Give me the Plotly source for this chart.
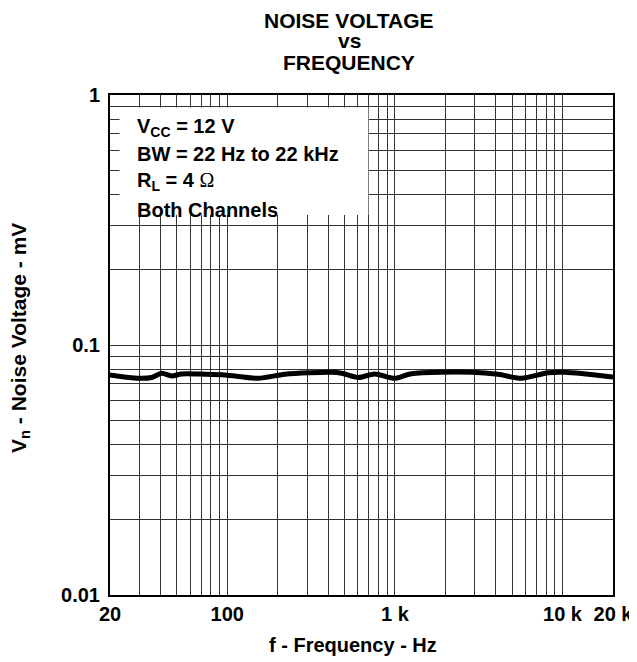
import plotly.graph_objects as go
import numpy as np

# Data
freq_hz = [20, 29.5, 35.4, 40.6, 46.6, 53.5, 73.7, 96.9, 153, 221, 419, 481, 604,
           759, 998, 1256, 2864, 4124, 5685, 8187, 10300, 20000]
noise_mv = [0.0759, 0.0736, 0.0741, 0.0771, 0.0752, 0.0766, 0.0764, 0.0759, 0.0736,
            0.0764, 0.0778, 0.0771, 0.0741, 0.0766, 0.0736, 0.0768, 0.0778, 0.0764,
            0.0736, 0.0774, 0.0778, 0.0745]

x_grid = [20, 30, 40, 50, 60, 70, 80, 90, 100, 200, 300, 400, 500, 600, 700, 800, 900,
          1000, 2000, 3000, 4000, 5000, 6000, 7000, 8000, 9000, 10000, 20000]
x_labels = {20: "20", 100: "100", 1000: "1 k", 10000: "10 k", 20000: "20 k"}

y_grid = [0.01, 0.02, 0.03, 0.04, 0.05, 0.06, 0.07, 0.08, 0.09,
          0.1, 0.2, 0.3, 0.4, 0.5, 0.6, 0.7, 0.8, 0.9, 1]
y_labels = {0.01: "0.01", 0.1: "0.1", 1: "1"}

title_lines = ["NOISE VOLTAGE", "vs", "FREQUENCY"]
info_lines = ["V<sub>CC</sub> = 12 V",
              "BW = 22 Hz to 22 kHz",
              "R<sub>L</sub> = 4 <span style=\"font-family:'Liberation Serif';font-weight:normal\">Ω</span>",
              "Both Channels"]
x_title = "f - Frequency - Hz"
y_title = "V<sub>n</sub> - Noise Voltage - mV"

FONT = "Liberation Sans, Arial, sans-serif"
FS = 20

fig = go.Figure()
fig.add_trace(go.Scatter(x=freq_hz, y=noise_mv, mode="lines",
                         line=dict(color="black", width=5, shape="spline", smoothing=0.8),
                         showlegend=False, hoverinfo="skip"))

fig.update_layout(
    width=629, height=654,
    margin=dict(l=102, r=24, t=87, b=67, autoexpand=False),
    paper_bgcolor="white", plot_bgcolor="white",
    font=dict(family=FONT, size=FS, color="black"),
)

fig.update_xaxes(type="log", range=[np.log10(20), np.log10(20000)], automargin=False,
                 tickmode="array", tickangle=0,
                 tickvals=x_grid, ticktext=["<b>%s</b>" % x_labels[v] if v in x_labels else "" for v in x_grid],
                 ticks="", showgrid=True, gridcolor="#333333", gridwidth=1,
                 showline=True, linecolor="black", linewidth=2, mirror=True,
                 tickfont=dict(size=FS))
fig.update_yaxes(type="log", range=[-2, 0], automargin=False,
                 tickmode="array", ticklabelstandoff=4,
                 tickvals=y_grid, ticktext=["<b>%s</b>" % y_labels[v] if v in y_labels else "" for v in y_grid],
                 ticks="", showgrid=True, gridcolor="#333333", gridwidth=1,
                 showline=True, linecolor="black", linewidth=2, mirror=True,
                 tickfont=dict(size=FS))

# White box for condition text
fig.add_shape(type="rect", xref="x", yref="y", x0=22.8, x1=695, y0=0.331, y1=0.891,
              fillcolor="white", line=dict(width=0), layer="between")

for i, txt in enumerate(info_lines):
    fig.add_annotation(xref="paper", yref="paper", x=0.0497, y=[0.934, 0.882, 0.828, 0.77][i],
                       text="<b>%s</b>" % txt, showarrow=False, xanchor="left", yanchor="middle",
                       font=dict(size=FS, family=FONT))

for txt, yp, h in zip(title_lines, [1.15, 1.109, 1.065], [19, 19, None]):
    fig.add_annotation(xref="paper", yref="paper", x=0.476, y=yp, text="<b>%s</b>" % txt,
                       showarrow=False, xanchor="center", yanchor="middle", height=h,
                       borderpad=0, font=dict(size=21, family=FONT))

fig.add_annotation(xref="paper", yref="paper", x=0.484, y=-0.1, text="<b>%s</b>" % x_title,
                   showarrow=False, xanchor="center", yanchor="middle", font=dict(size=FS, family=FONT))
fig.add_annotation(xref="paper", yref="paper", x=-0.179, y=0.514, text="<b>%s</b>" % y_title,
                   showarrow=False, xanchor="center", yanchor="middle", textangle=-90,
                   font=dict(size=21, family=FONT))

fig.write_html("out.html")
